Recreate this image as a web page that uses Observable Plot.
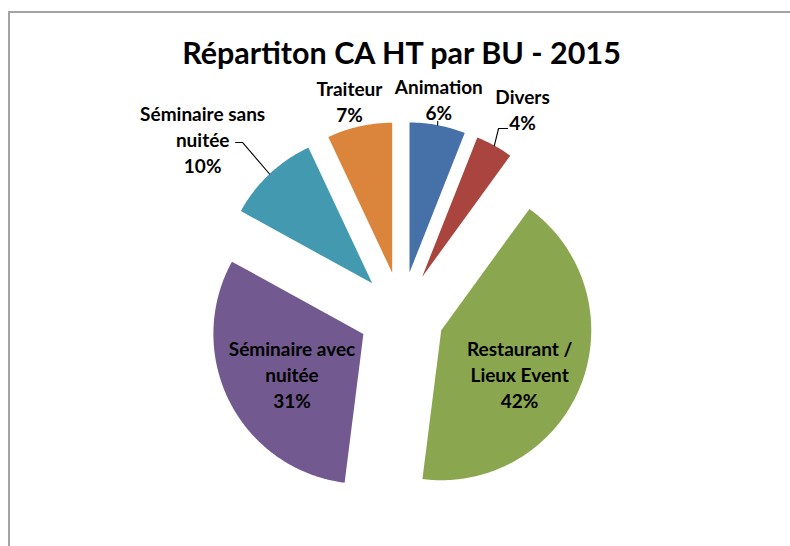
<!DOCTYPE html>
<html><head><meta charset="utf-8">
<script src="https://cdn.jsdelivr.net/npm/d3@7"></script>
<script src="https://cdn.jsdelivr.net/npm/@observablehq/plot@0.6"></script>
<style>
body{margin:0;background:#fff;font-family:Lato,sans-serif}
#wrap{position:relative;width:790px;height:546px;overflow:hidden;background:#fff}
#frame{position:absolute;left:8px;top:11px;width:820px;height:580px;border-left:2px solid #a3a3a3;border-top:2px solid #a3a3a3;pointer-events:none}
#wrap svg{position:absolute;left:0;top:0}
</style></head><body><div id="wrap"><div id="frame"></div></div>
<script>
// ---- data ----
const title = "Répartiton CA HT par BU - 2015";
const categories = ["Animation", "Divers", "Restaurant / Lieux Event", "Séminaire avec nuitée", "Séminaire sans nuitée", "Traiteur"];
const labelTexts = ["Animation", "Divers", "Restaurant /\nLieux Event", "Séminaire avec\nnuitée", "Séminaire sans\nnuitée", "Traiteur"];
const shares = [6, 4, 42, 31, 10, 7];
const colors = ["#4671A8", "#A9443F", "#8AA64F", "#725A90", "#4399B0", "#DB843C"];

// ---- layout ----
const W = 790, H = 546, CX = 401, CY = 314, R = 150;
const EXPLODE = 0.285;                       // in radius units
const labelRadius = [1.46, 1.59, 0.88, 0.83, 1.77, 1.465];
const labelTurn = [-1, 1.7, 4.9, -1.4, -5.3, -1.1]; // degrees
// leader lines: [elbow, end] offsets in px from label centre
const leaders = {
  "Animation": [[-1, 22.5], [-1, 22.5]],
  "Divers": [[-24, 19.5], [-15, 19.5]],
  "Séminaire sans nuitée": [[40, 4], [33, 4]]
};

const rows = categories.map((name, i) => ({name, label: labelTexts[i], share: shares[i], i}));
const arcs = d3.pie().sort(null).value(d => d.share).startAngle(0).endAngle(2 * Math.PI)(rows);

const slicePts = [];
const labels = [];
const leaderPts = [];
for (const a of arcs) {
  const d = a.data;
  const mid = (a.startAngle + a.endAngle) / 2;
  const ox = EXPLODE * Math.sin(mid), oy = EXPLODE * Math.cos(mid);
  slicePts.push({name: d.name, x: ox, y: oy});
  const n = Math.max(2, Math.ceil((a.endAngle - a.startAngle) / (Math.PI / 360)));
  for (let k = 0; k <= n; k++) {
    const t = a.startAngle + (a.endAngle - a.startAngle) * k / n;
    slicePts.push({name: d.name, x: ox + Math.sin(t), y: oy + Math.cos(t)});
  }
  const la = mid + labelTurn[d.i] * Math.PI / 180;
  const lx = labelRadius[d.i] * Math.sin(la), ly = labelRadius[d.i] * Math.cos(la);
  labels.push({name: d.name, x: lx, y: ly, text: d.label + "\n" + d.share + "%"});
  if (leaders[d.name]) {
    const [el, en] = leaders[d.name];
    leaderPts.push({name: d.name, x: ox + Math.sin(mid), y: oy + Math.cos(mid)});
    leaderPts.push({name: d.name, x: lx + el[0] / R, y: ly - el[1] / R});
    leaderPts.push({name: d.name, x: lx + en[0] / R, y: ly - en[1] / R});
  }
}

const chart = Plot.plot({
  width: W, height: H,
  margin: 0,
  x: {domain: [-CX / R, (W - CX) / R], axis: null},
  y: {domain: [-(H - CY) / R, CY / R], axis: null},
  color: {domain: categories, range: colors},
  style: {fontFamily: "Lato, sans-serif", background: "transparent"},
  marks: [
    Plot.line(slicePts, {x: "x", y: "y", z: "name", fill: "name", stroke: null, curve: "linear"}),
    Plot.line(leaderPts, {x: "x", y: "y", z: "name", stroke: "#000", strokeWidth: 1.1}),
    Plot.text(labels, {x: "x", y: "y", text: "text", fontSize: 19, fontWeight: "bold", lineHeight: 1.37, fill: "#000"}),
    Plot.text([title], {frameAnchor: "top", dx: 6, dy: 42, lineAnchor: "top", fontSize: 30.5, fontWeight: "bold", fill: "#000"})
  ]
});
document.getElementById("wrap").appendChild(chart);
</script>
</body></html>
